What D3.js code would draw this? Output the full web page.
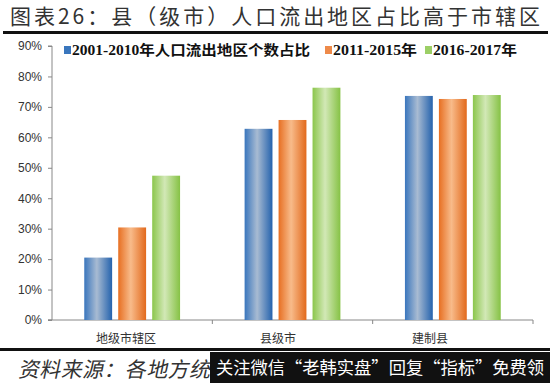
<!DOCTYPE html>
<html><head><meta charset="utf-8">
<script src="https://cdn.jsdelivr.net/npm/d3@7"></script>
<style>body{margin:0;background:#fff}svg{display:block}</style>
</head><body>
<script>
const categories = ["地级市辖区", "县级市", "建制县"];
const seriesNames = ["2001-2010年人口流出地区个数占比", "2011-2015年", "2016-2017年"];
const s2001_2010 = [20.5, 62.8, 73.6];
const s2011_2015 = [30.4, 65.7, 72.6];
const s2016_2017 = [47.4, 76.3, 73.9];
const yTicks = [0, 10, 20, 30, 40, 50, 60, 70, 80, 90];
const titleText = "图表26：县（级市）人口流出地区占比高于市辖区";
const sourceText = "资料来源：各地方统";
const bannerText = "关注微信“老韩实盘”回复“指标”免费领";

const W = 550, H = 383;
const svg = d3.select("body").append("svg").attr("width", W).attr("height", H);
const defs = svg.append("defs");
const grads = [
  ["gBlue", ["#3a76bd", "#a8bbd2", "#2462ad"]],
  ["gOrange", ["#e76f22", "#f8bb8a", "#e2691c"]],
  ["gGreen", ["#8bc64c", "#d2e8b6", "#86c245"]]
];
grads.forEach(([id, c]) => {
  const g = defs.append("linearGradient").attr("id", id).attr("x1", "0").attr("x2", "1").attr("y1", "0").attr("y2", "0");
  g.append("stop").attr("offset", "0").attr("stop-color", c[0]);
  g.append("stop").attr("offset", "0.45").attr("stop-color", c[1]);
  g.append("stop").attr("offset", "1").attr("stop-color", c[2]);
});
const fills = ["url(#gBlue)", "url(#gOrange)", "url(#gGreen)"];
const legendColors = ["#3a76bd", "#ee8a4a", "#9ccf66"];

// Title
svg.append("text").attr("x", 10).attr("y", 24)
  .attr("font-family", "Noto Sans CJK SC").attr("font-size", 21).attr("fill", "#333")
  .attr("textLength", 530).attr("lengthAdjust", "spacing").text(titleText);
svg.append("rect").attr("x", 3).attr("y", 31).attr("width", 545).attr("height", 3).attr("fill", "#111");

const x = d3.scaleBand().domain(categories).range([52, 533]);
const xLabel = d3.scaleBand().domain(categories).range([50, 506]);
const inner = d3.scaleBand().domain([0, 1, 2]).range([0, x.bandwidth()]).paddingInner(0.18).paddingOuter(0.95);
const y = d3.scaleLinear().domain([0, 90]).range([320, 46]);

// Y axis
const yAxis = d3.axisLeft(y).tickValues(yTicks).tickSize(4).tickPadding(6).tickFormat(d => d + "%");
const gy = svg.append("g").attr("transform", "translate(52,0)").call(yAxis);
gy.select(".domain").attr("stroke", "#888").attr("d", "M-4,46H0V320H-4");
gy.selectAll(".tick line").attr("stroke", "#888");
gy.selectAll(".tick text").attr("font-family", "Liberation Sans").attr("font-size", 12).attr("fill", "#333");

// X axis
const gx = svg.append("g").attr("transform", "translate(0,320)");
gx.append("line").attr("x1", 48).attr("x2", 533).attr("stroke", "#888");
gx.selectAll("line.t").data(categories).enter().append("line").attr("class", "t")
  .attr("x1", d => x(d) + x.bandwidth()).attr("x2", d => x(d) + x.bandwidth())
  .attr("y1", 0).attr("y2", 4).attr("stroke", "#888");
gx.selectAll("text").data(categories).enter().append("text")
  .attr("x", d => xLabel(d) + xLabel.bandwidth() / 2).attr("y", 23)
  .attr("text-anchor", "middle").attr("font-family", "Noto Sans CJK SC").attr("font-size", 12)
  .attr("fill", "#333").text(d => d);

// Bars
const series = [s2001_2010, s2011_2015, s2016_2017];
series.forEach((vals, si) => {
  svg.append("g").selectAll("rect").data(categories).enter().append("rect")
    .attr("x", d => x(d) + inner(si))
    .attr("width", inner.bandwidth())
    .attr("y", (d, i) => y(vals[i]))
    .attr("height", (d, i) => y(0) - y(vals[i]))
    .attr("fill", fills[si]);
});

// Legend
const legendX = [64, 325, 425];
const legendW = [238, 84, 84];
seriesNames.forEach((n, i) => {
  svg.append("rect").attr("x", legendX[i]).attr("y", 46).attr("width", 7).attr("height", 8).attr("fill", legendColors[i]);
  svg.append("text").attr("x", legendX[i] + 8).attr("y", 55)
    .attr("font-family", "Liberation Serif, Noto Sans CJK SC").attr("font-weight", "bold").attr("font-size", 14)
    .attr("fill", "#111").attr("textLength", legendW[i]).attr("lengthAdjust", "spacingAndGlyphs").text(n);
});

// Bottom line & footer
svg.append("rect").attr("x", 0).attr("y", 348).attr("width", 550).attr("height", 3).attr("fill", "#111");
svg.append("g").attr("transform", "translate(18,377) skewX(-12)")
  .append("text").attr("x", 0).attr("y", 0)
  .attr("font-family", "Noto Sans CJK SC").attr("font-size", 21)
  .attr("fill", "#333").attr("textLength", 192).attr("lengthAdjust", "spacing").text(sourceText);
svg.append("rect").attr("x", 210).attr("y", 352).attr("width", 340).attr("height", 31).attr("fill", "#111");
svg.append("text").attr("x", 216).attr("y", 374)
  .attr("font-family", "Noto Sans CJK SC").attr("font-size", 17).attr("fill", "#fff")
  .attr("textLength", 328).attr("lengthAdjust", "spacingAndGlyphs").text(bannerText);
</script>
</body></html>
